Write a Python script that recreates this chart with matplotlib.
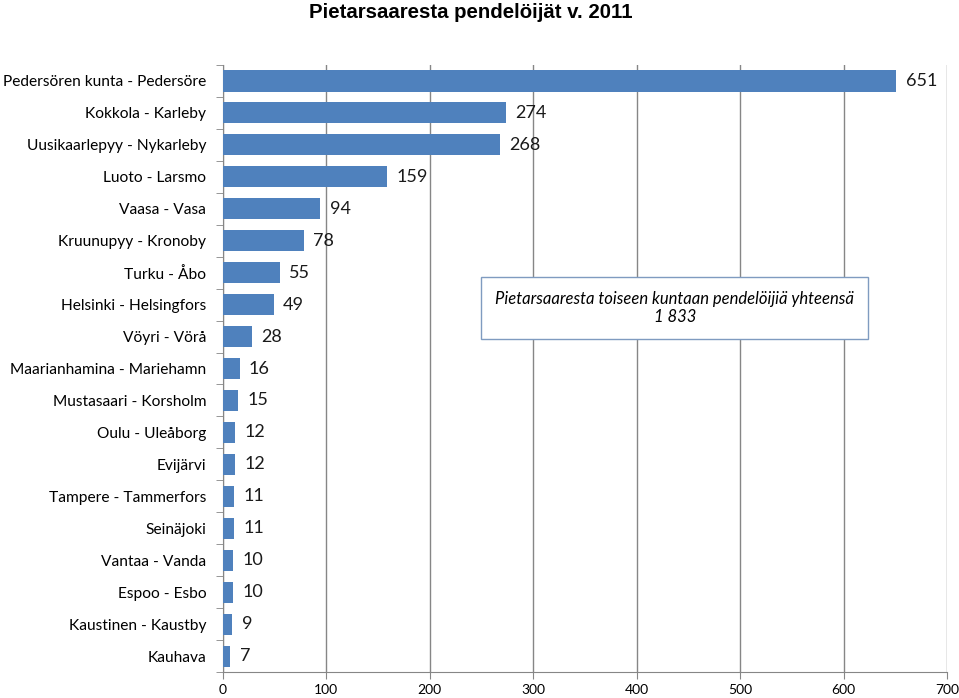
import matplotlib.pyplot as plt
import numpy as np

kunnat = ['Pedersören kunta - Pedersöre', 'Kokkola - Karleby', 'Uusikaarlepyy - Nykarleby',
          'Luoto - Larsmo', 'Vaasa - Vasa', 'Kruunupyy - Kronoby', 'Turku - Åbo',
          'Helsinki - Helsingfors', 'Vöyri - Vörå', 'Maarianhamina - Mariehamn',
          'Mustasaari - Korsholm', 'Oulu - Uleåborg', 'Evijärvi', 'Tampere - Tammerfors',
          'Seinäjoki', 'Vantaa - Vanda', 'Espoo - Esbo', 'Kaustinen - Kaustby', 'Kauhava']
pendelöijät = [651, 274, 268, 159, 94, 78, 55, 49, 28, 16, 15, 12, 12, 11, 11, 10, 10, 9, 7]
yhteensa = '1 833'

plt.rcParams['font.family'] = ['Lato', 'DejaVu Sans']

fig = plt.figure(figsize=(9.59, 6.98), dpi=100)
ax = fig.add_axes([0.2325, 0.0372, 0.755, 0.8697])

y = np.arange(len(kunnat))
ax.barh(y, pendelöijät, height=0.66, color='#4F81BD', zorder=3)
for yi, v in zip(y, pendelöijät):
    ax.text(v + 9, yi, str(v), va='center', ha='left', fontsize=13, color='#1a1a1a')

ax.set_ylim(len(kunnat) - 0.5, -0.5)
ax.set_xlim(0, 700)
ax.set_xticks(range(0, 701, 100))
ax.set_yticks(y)
ax.set_yticklabels(kunnat, fontsize=11.2)
ax.set_yticks(np.arange(-0.5, len(kunnat), 1), minor=True)
ax.tick_params(axis='y', which='major', length=0, pad=12)
ax.tick_params(axis='y', which='minor', length=5, color='#868686')
ax.tick_params(axis='x', length=5, color='#868686', labelsize=10)
ax.xaxis.grid(True, color='#868686', lw=1, zorder=0)
for s in ['top', 'right']:
    ax.spines[s].set_visible(False)
for s in ['left', 'bottom']:
    ax.spines[s].set_color('#868686')

ax.text(0.624, 0.6, 'Pietarsaaresta toiseen kuntaan pendelöijiä yhteensä\n' + yhteensa,
        transform=ax.transAxes, ha='center', va='center', fontsize=12, style='italic',
        linespacing=1.15, zorder=5,
        bbox=dict(boxstyle='square,pad=0.85', fc='white', ec='#7F9BC0', lw=1))

fig.suptitle('Pietarsaaresta pendelöijät v. 2011', x=0.491, y=0.995, fontsize=14.7,
             fontweight='bold', family='Liberation Sans')

fig.savefig('out.png', dpi=100)
